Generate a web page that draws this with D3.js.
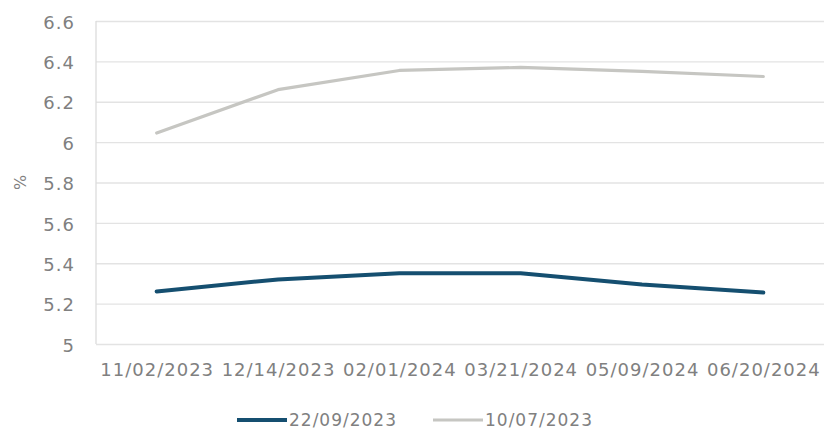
<!DOCTYPE html>
<html>
<head>
    <script src="https://d3js.org/d3.v7.min.js"></script>
    <style>
        body { margin: 0; background: #fff; }
        text { font-family: "DejaVu Sans", sans-serif; fill: #808080; }
    </style>
</head>
<body>
    <svg id="chart"></svg>
    <script>
        const dates = ["11/02/2023", "12/14/2023", "02/01/2024", "03/21/2024", "05/09/2024", "06/20/2024"];
        const yTicks = [5, 5.2, 5.4, 5.6, 5.8, 6, 6.2, 6.4, 6.6];
        const seriesNames = ["22/09/2023", "10/07/2023"];
        const sepValues = [5.26, 5.32, 5.35, 5.35, 5.295, 5.255];
        const julValues = [6.045, 6.26, 6.355, 6.37, 6.35, 6.325];
        const colors = ["#154f70", "#c6c6c2"];
        const widths = [4, 3.2];

        const svgWidth = 833, svgHeight = 430;
        const margin = { top: 21, right: 9, bottom: 86, left: 96 };
        const width = svgWidth - margin.left - margin.right;
        const height = svgHeight - margin.top - margin.bottom;

        const svg = d3.select("#chart")
            .attr("width", svgWidth)
            .attr("height", svgHeight)
            .append("g")
            .attr("transform", `translate(${margin.left}, ${margin.top})`);

        const xScale = d3.scalePoint()
            .domain(dates)
            .range([0, width])
            .padding(0.5);

        const yScale = d3.scaleLinear()
            .domain([5, 6.6])
            .range([height, 0]);

        // gridlines + y labels
        const yAxis = svg.append("g")
            .call(d3.axisLeft(yScale).tickValues(yTicks).tickSize(-width).tickFormat(d3.format("~g")).tickPadding(21));
        yAxis.select(".domain").remove();
        yAxis.selectAll("line").attr("stroke", "#e3e3e3").attr("stroke-width", 1.3);
        yAxis.selectAll("text").style("font-size", "18px").attr("fill", "#858080").attr("letter-spacing", "1px").attr("dy", "0.4em");

        svg.append("line")
            .attr("x1", 0).attr("x2", 0)
            .attr("y1", 0).attr("y2", height)
            .attr("stroke", "#dcdcdc").attr("stroke-width", 1.3);

        const xAxis = svg.append("g")
            .attr("transform", `translate(0, ${height})`)
            .call(d3.axisBottom(xScale).tickSize(0).tickPadding(19));
        xAxis.select(".domain").remove();
        xAxis.selectAll("text").style("font-size", "18px").attr("fill", "#858080").attr("letter-spacing", "1px");

        // "%" unit label
        svg.append("text")
            .attr("transform", `translate(${-76}, ${yScale(5.8)}) rotate(-90)`)
            .attr("text-anchor", "middle")
            .attr("dy", "0.35em")
            .style("font-size", "16px")
            .attr("fill", "#858080")
            .text("%");

        const line = d3.line()
            .x((d, i) => xScale(dates[i]))
            .y(d => yScale(d))
            .curve(d3.curveLinear);

        [sepValues, julValues].forEach((vals, k) => {
            svg.append("path")
                .datum(vals)
                .attr("fill", "none")
                .attr("stroke", colors[k])
                .attr("stroke-width", widths[k])
                .attr("stroke-linecap", "round")
                .attr("stroke-linejoin", "round")
                .attr("d", line);
        });

        // legend
        const legend = svg.append("g")
            .attr("transform", `translate(${237 - margin.left}, ${420 - margin.top})`);
        const legendX = [0, 196];
        seriesNames.forEach((name, k) => {
            const g = legend.append("g").attr("transform", `translate(${legendX[k]}, 0)`);
            g.append("line")
                .attr("x1", 0).attr("x2", 50)
                .attr("stroke", colors[k])
                .attr("stroke-width", widths[k]);
            g.append("text")
                .attr("x", 52)
                .attr("dy", "0.36em")
                .style("font-size", "17px")
                .attr("fill", "#858080")
                .attr("letter-spacing", "1px")
                .text(name);
        });
    </script>
</body>
</html>
